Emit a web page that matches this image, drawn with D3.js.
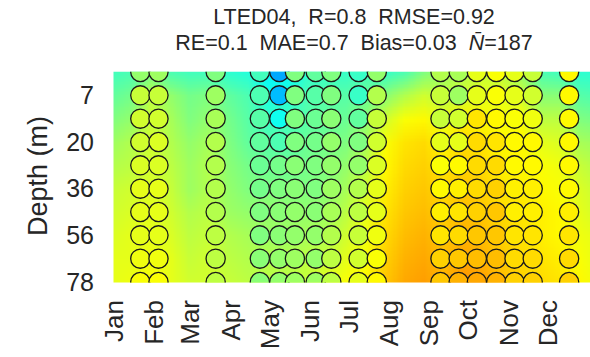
<!DOCTYPE html>
<html><head><meta charset="utf-8">
<script src="https://cdn.jsdelivr.net/npm/d3@7"></script>
<style>
body{margin:0;background:#fff}
svg{display:block}
text{font-family:"Liberation Sans",Arial,Helvetica,sans-serif;fill:#262626}
</style>
</head><body>
<svg id="chart" width="590" height="357"></svg>
<script>
// ---------- data ----------
const depths = [1, 7, 13, 20, 28, 36, 46, 56, 67, 78];
const depthTicks = [7, 20, 36, 56, 78];
const monthLabels = ["Jan","Feb","Mar","Apr","May","Jun","Jul","Aug","Sep","Oct","Nov","Dec"];
const monthStartDays = [1, 32, 60, 91, 121, 152, 182, 213, 244, 274, 305, 335];
const titleLine1 = "LTED04,  R=0.8  RMSE=0.92";
const titleLine2a = "RE=0.1  MAE=0.7  Bias=0.03  ";
const titleLine2b = "=187";
const colorDomain = [12, 22];

// model field: one column per day, values from surface (1 m) to bottom (78 m)
const modelDays = [0,15,30,45,60,75,90,105,120,135,150,165,180,195,210,225,240,255,270,285,300,315,330,345,360,375];
const modelTemp = [
  [16.4,16.7,17.0,17.3,17.5,17.7,17.8,17.9,18.0,18.0],
  [16.5,16.9,17.2,17.5,17.6,17.8,17.9,18.0,18.0,18.1],
  [16.9,17.6,17.7,17.8,17.8,17.9,18.0,18.0,18.1,18.2],
  [16.5,17.2,17.4,17.5,17.6,17.7,17.8,17.9,18.0,18.0],
  [16.4,16.9,17.0,17.2,17.3,17.3,17.5,17.6,17.7,17.8],
  [16.4,17.0,17.2,17.4,17.5,17.5,17.6,17.7,17.8,17.8],
  [16.2,16.7,16.9,17.0,17.1,17.2,17.3,17.5,17.6,17.7],
  [16.1,16.5,16.6,16.7,16.9,17.0,17.2,17.4,17.5,17.6],
  [15.7,16.0,16.3,16.6,16.8,17.0,17.2,17.3,17.5,17.6],
  [15.8,16.1,16.4,16.6,16.8,17.0,17.2,17.3,17.5,17.6],
  [16.2,16.5,16.6,16.8,16.9,17.0,17.2,17.4,17.6,17.7],
  [16.3,16.6,16.7,16.9,17.0,17.1,17.3,17.5,17.7,18.0],
  [16.3,16.6,16.8,17.0,17.2,17.4,17.6,17.8,18.0,18.2],
  [16.4,16.8,17.1,17.4,17.6,17.8,18.0,18.1,18.2,18.3],
  [16.3,17.1,17.8,18.2,18.3,18.4,18.5,18.6,18.7,18.8],
  [16.5,17.5,18.2,18.5,18.6,18.7,18.8,18.9,19.0,19.1],
  [17.0,17.8,18.3,18.6,18.7,18.8,18.9,19.0,19.1,19.2],
  [17.3,17.6,18.0,18.3,18.5,18.6,18.7,18.8,18.9,19.0],
  [17.5,17.8,18.4,18.6,18.7,18.8,18.9,19.0,19.1,19.3],
  [17.7,18.0,18.3,18.5,18.6,18.7,18.8,18.9,19.0,19.2],
  [17.6,18.0,18.2,18.3,18.4,18.5,18.6,18.7,18.8,18.9],
  [17.2,17.8,18.2,18.3,18.3,18.4,18.5,18.5,18.6,18.7],
  [16.5,17.1,17.6,18.0,18.2,18.3,18.4,18.4,18.5,18.6],
  [16.4,17.1,17.6,17.9,18.1,18.2,18.3,18.3,18.4,18.5],
  [16.2,16.6,17.0,17.4,17.7,17.9,18.0,18.1,18.2,18.3],
  [16.2,16.5,16.9,17.3,17.5,17.7,17.8,18.0,18.0,18.1]
];

// observations: sampling days, values per depth
const obsDays = [22, 36, 80, 114, 129, 141, 157, 169, 190, 204, 253, 267, 281, 296, 310, 324, 352];
const obsTemp = [
  [17.2,17.7,17.8,17.8,17.9,18.0,18.0,18.0,18.1,18.2],
  [17.3,17.7,17.8,17.9,17.9,18.0,18.0,18.0,18.1,18.2],
  [17.0,17.3,17.4,17.5,17.5,17.5,17.5,17.6,17.6,17.6],
  [16.4,16.5,16.6,16.7,16.8,16.9,17.0,17.0,17.1,17.1],
  [14.9,15.1,15.9,16.5,16.9,17.0,17.1,17.1,17.2,17.2],
  [17.0,17.0,17.0,17.0,17.1,17.1,17.2,17.2,17.3,17.3],
  [16.7,16.6,16.8,16.9,17.0,17.0,17.1,17.2,17.2,17.3],
  [17.0,17.0,17.1,17.2,17.2,17.3,17.4,17.5,17.6,17.6],
  [16.3,16.3,16.7,17.0,17.2,17.5,17.6,17.7,17.8,18.0],
  [17.2,17.5,17.7,17.8,17.9,18.0,18.0,18.1,18.2,18.3],
  [17.5,17.7,17.7,18.0,18.2,18.3,18.4,18.5,18.7,18.8],
  [17.4,17.3,17.8,18.0,18.3,18.4,18.5,18.6,18.8,19.0],
  [18.0,18.0,18.5,18.6,18.6,18.6,18.7,18.8,18.9,19.1],
  [18.2,18.2,18.3,18.5,18.6,18.7,18.8,18.8,18.9,19.0],
  [18.0,18.0,18.2,18.3,18.3,18.4,18.4,18.5,18.6,18.7],
  [17.7,17.8,18.1,18.3,18.3,18.4,18.4,18.5,18.6,18.7],
  [18.3,18.3,18.3,18.3,18.3,18.3,18.4,18.5,18.6,18.7]
];

// ---------- chart ----------
const svg = d3.select("#chart");
const plot = {left: 113, right: 590, top: 72, bottom: 282};

const x = d3.scaleLinear().domain([1, 366]).range([113, 587.3]);
const y = d3.scaleLinear().domain([0, depths.length - 1]).range([plot.top, plot.bottom]);

function jet(t) {
  const c = v => Math.round(255 * Math.max(0, Math.min(1, v)));
  return `rgb(${c(1.5 - Math.abs(4*t - 3))},${c(1.5 - Math.abs(4*t - 2))},${c(1.5 - Math.abs(4*t - 1))})`;
}
const color = d3.scaleSequential(jet).domain(colorDomain);

svg.append("defs").append("clipPath").attr("id", "plotClip")
  .append("rect").attr("x", plot.left + 0.5).attr("y", plot.top - 0.3)
  .attr("width", plot.right - plot.left).attr("height", plot.bottom - plot.top + 0.8);

const g = svg.append("g").attr("clip-path", "url(#plotClip)");

// model field as a small image that the browser scales smoothly
const nc = modelDays.length, nr = depths.length;
const cv = document.createElement("canvas");
cv.width = nc; cv.height = nr;
const ctx = cv.getContext("2d");
modelTemp.forEach((col, i) => col.forEach((v, j) => {
  ctx.fillStyle = color(v);
  ctx.fillRect(i, j, 1, 1);
}));
const step = modelDays[1] - modelDays[0];
g.append("image")
  .attr("href", cv.toDataURL())
  .attr("x", x(modelDays[0] - step / 2))
  .attr("y", y(-0.5))
  .attr("width", x(modelDays[nc - 1] + step / 2) - x(modelDays[0] - step / 2))
  .attr("height", y(nr - 0.5) - y(-0.5))
  .attr("preserveAspectRatio", "none");

// observation circles
const obs = [];
obsDays.forEach((d, i) => obsTemp[i].forEach((v, j) => obs.push({d, j, v})));
g.selectAll("circle.obs").data(obs).join("circle")
  .attr("class", "obs")
  .attr("cx", o => x(o.d)).attr("cy", o => y(o.j)).attr("r", 9.6)
  .attr("fill", o => color(o.v))
  .attr("stroke", "#1a1a1a").attr("stroke-width", 1.3);

// y axis (depth)
const yAxis = d3.axisLeft(y)
  .tickValues(depthTicks.map(dv => depths.indexOf(dv)))
  .tickFormat(i => depths[i]).tickSize(0).tickPadding(0);
const ya = svg.append("g").attr("transform", "translate(94,0)").call(yAxis);
ya.select(".domain").remove();
ya.selectAll("text").attr("font-size", 25).attr("fill", "#262626")
  .style("font-family", '"Liberation Sans",Arial,sans-serif');

// x axis (months), rotated labels
const xAxis = d3.axisBottom(x).tickValues(monthStartDays)
  .tickFormat((d, i) => monthLabels[i]).tickSize(0);
const xa = svg.append("g").attr("transform", "translate(0,300)").call(xAxis);
xa.select(".domain").remove();
xa.selectAll("text")
  .attr("font-size", 26).attr("fill", "#262626")
  .style("font-family", '"Liberation Sans",Arial,sans-serif')
  .attr("text-anchor", "end")
  .attr("y", 0).attr("dy", "0.35em").attr("x", 0)
  .attr("transform", "rotate(-90)");

// y label
svg.append("text")
  .attr("transform", "translate(47,176) rotate(-90)")
  .attr("text-anchor", "middle").attr("font-size", 27)
  .text("Depth (m)");

// title
const cx = 354;
svg.append("text").attr("x", cx).attr("y", 24).style("white-space", "pre")
  .attr("text-anchor", "middle").attr("font-size", 21.5).text(titleLine1);
const t2 = svg.append("text").attr("x", cx).attr("y", 50).style("white-space", "pre")
  .attr("text-anchor", "middle").attr("font-size", 21.5);
t2.append("tspan").text(titleLine2a);
t2.append("tspan").attr("font-style", "italic").text("N\u0304");
t2.append("tspan").text(titleLine2b);
</script>
</body></html>
